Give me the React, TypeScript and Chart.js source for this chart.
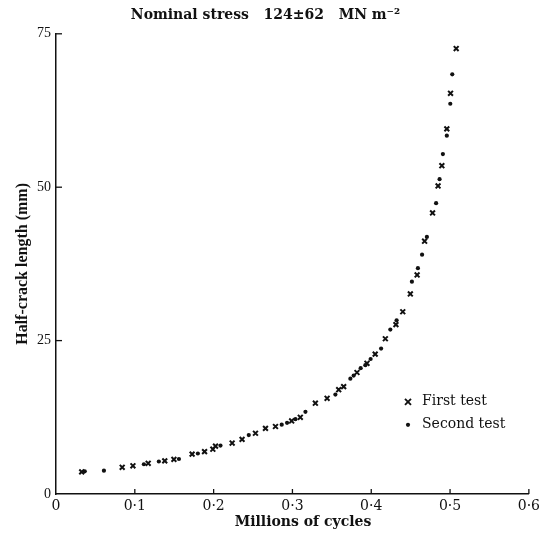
import React, { useEffect, useRef } from "react";
import { Chart, registerables } from "chart.js";

Chart.register(...registerables);

// ---- data ----
const titleText = "Nominal stress   124\u00b162   MN m\u207b\u00b2";
const xAxisTitle = "Millions of cycles";
const yAxisTitle = "Half-crack length (mm)";
const xTickValues = [0, 0.1, 0.2, 0.3, 0.4, 0.5, 0.6];
const xTickLabels = ["0", "0\u00b71", "0\u00b72", "0\u00b73", "0\u00b74", "0\u00b75", "0\u00b76"];
const yTickValues = [0, 25, 50, 75];
const yTickLabels = ["0", "25", "50", "75"];
const seriesNames = ["First test", "Second test"];

const firstX = [
  0.0326, 0.084, 0.0976, 0.117, 0.138, 0.1496, 0.1727, 0.1885, 0.199, 0.2024,
  0.2235, 0.2361, 0.2531, 0.2658, 0.2785, 0.299, 0.31, 0.3291, 0.344, 0.3587,
  0.365, 0.3819, 0.3946, 0.405, 0.4179, 0.4313, 0.44, 0.4496, 0.4582, 0.4677,
  0.4778, 0.4848, 0.4896, 0.4959, 0.5006, 0.5078,
];
const firstY = [
  3.6, 4.35, 4.6, 5.0, 5.4, 5.65, 6.5, 6.9, 7.3, 7.8,
  8.3, 8.9, 9.9, 10.7, 11.0, 11.9, 12.5, 14.8, 15.6, 17.0,
  17.5, 19.8, 21.3, 22.8, 25.3, 27.6, 29.7, 32.6, 35.7, 41.2,
  45.8, 50.2, 53.5, 59.5, 65.3, 72.6,
];
const secondX = [
  0.0365, 0.0608, 0.1115, 0.1305, 0.156, 0.18, 0.2087, 0.2446, 0.2864, 0.2932,
  0.3038, 0.3165, 0.3545, 0.3735, 0.3777, 0.3866, 0.3925, 0.3992, 0.4125, 0.4242,
  0.4322, 0.4516, 0.4592, 0.4645, 0.4706, 0.4823, 0.4867, 0.4909, 0.4959, 0.5003,
  0.5028,
];
const secondY = [
  3.7, 3.8, 4.85, 5.3, 5.7, 6.6, 7.9, 9.6, 11.3, 11.6,
  12.2, 13.4, 16.2, 18.8, 19.3, 20.5, 21.0, 22.0, 23.7, 26.8,
  28.3, 34.6, 36.8, 39.0, 41.9, 47.4, 51.3, 55.4, 58.4, 63.6,
  68.4,
];

const SERIF = "'Liberation Serif', 'Times New Roman', serif";
const WIDE = "'DejaVu Serif', serif";
const INK = "#111111";

function drawCross(ctx: CanvasRenderingContext2D, x: number, y: number, r: number) {
  ctx.beginPath();
  ctx.moveTo(x - r, y - r);
  ctx.lineTo(x + r, y + r);
  ctx.moveTo(x + r, y - r);
  ctx.lineTo(x - r, y + r);
  ctx.stroke();
}

const extrasPlugin = {
  id: "extras",
  afterDraw(chart: any) {
    const { ctx, chartArea, scales } = chart;
    ctx.save();
    ctx.strokeStyle = INK;
    ctx.lineWidth = 1.3;
    // inward tick marks
    xTickValues.forEach((v) => {
      if (v === 0) return;
      const px = scales.x.getPixelForValue(v);
      ctx.beginPath();
      ctx.moveTo(px, chartArea.bottom);
      ctx.lineTo(px, chartArea.bottom - 5);
      ctx.stroke();
    });
    yTickValues.forEach((v) => {
      if (v === 0) return;
      const py = scales.y.getPixelForValue(v);
      ctx.beginPath();
      ctx.moveTo(chartArea.left, py);
      ctx.lineTo(chartArea.left + 6, py);
      ctx.stroke();
    });
    // x-axis title, centred where the original puts it
    ctx.fillStyle = INK;
    ctx.font = `bold 14px ${WIDE}`;
    ctx.textAlign = "center";
    ctx.textBaseline = "middle";
    ctx.fillText(xAxisTitle, chartArea.left + 247, chartArea.bottom + 28);
    // legend inside plot
    const lx = chartArea.left + 352;
    const ly1 = chartArea.top + 368;
    const ly2 = ly1 + 23;
    ctx.lineWidth = 1.9;
    drawCross(ctx, lx, ly1, 3);
    ctx.beginPath();
    ctx.arc(lx, ly2, 2.1, 0, Math.PI * 2);
    ctx.fill();
    ctx.font = `14px ${WIDE}`;
    ctx.textAlign = "left";
    ctx.fillText(seriesNames[0], lx + 14, ly1);
    ctx.fillText(seriesNames[1], lx + 14, ly2);
    ctx.restore();
  },
};

export default function App() {
  const ref = useRef<HTMLCanvasElement | null>(null);
  useEffect(() => {
    if (!ref.current) return;
    const chart = new Chart(ref.current, {
      type: "scatter",
      data: {
        datasets: [
          {
            label: seriesNames[0],
            data: firstX.map((x, i) => ({ x, y: firstY[i] })),
            pointStyle: "crossRot",
            radius: 3.4,
            borderWidth: 2,
            borderColor: INK,
            backgroundColor: INK,
          },
          {
            label: seriesNames[1],
            data: secondX.map((x, i) => ({ x, y: secondY[i] })),
            pointStyle: "circle",
            radius: 2.1,
            borderWidth: 0,
            borderColor: INK,
            backgroundColor: INK,
          },
        ],
      },
      options: {
        animation: false,
        responsive: true,
        maintainAspectRatio: false,
        layout: { padding: { left: 0, right: 13, top: 0, bottom: 0 } },
        plugins: {
          legend: { display: false },
          tooltip: { enabled: false },
          title: {
            display: true,
            text: titleText,
            color: INK,
            font: { family: WIDE, size: 14, weight: "bold", lineHeight: 1.2 },
            padding: { top: 7, bottom: 10 },
          },
        },
        scales: {
          x: {
            type: "linear",
            min: 0,
            max: 0.6,
            afterBuildTicks: (s: any) => {
              s.ticks = xTickValues.map((v) => ({ value: v }));
            },
            afterFit: (s: any) => {
              s.height = 48;
            },
            grid: { display: false, drawTicks: false },
            border: { display: true, color: INK, width: 1.5 },
            ticks: {
              color: INK,
              padding: 4,
              maxRotation: 0,
              autoSkip: false,
              font: { family: WIDE, size: 14 },
              callback: (_v: any, i: number) => xTickLabels[i],
            },
            title: { display: false, text: xAxisTitle },
          },
          y: {
            type: "linear",
            min: 0,
            max: 75,
            afterBuildTicks: (s: any) => {
              s.ticks = yTickValues.map((v) => ({ value: v }));
            },
            afterFit: (s: any) => {
              s.width = 56;
            },
            grid: { display: false, drawTicks: false },
            border: { display: true, color: INK, width: 1.5 },
            ticks: {
              color: INK,
              padding: 5,
              autoSkip: false,
              font: { family: SERIF, size: 14 },
              callback: (_v: any, i: number) => yTickLabels[i],
            },
            title: {
              display: true,
              text: yAxisTitle,
              color: INK,
              font: { family: SERIF, size: 16, weight: "bold" },
              padding: { top: 13, bottom: 0 },
            },
          },
        },
      },
      plugins: [extrasPlugin],
    });
    return () => chart.destroy();
  }, []);
  return (
    <div
      style={{
        position: "fixed",
        left: 0,
        top: 0,
        width: 544,
        height: 542,
        background: "#ffffff",
      }}
    >
      <canvas ref={ref} />
    </div>
  );
}
